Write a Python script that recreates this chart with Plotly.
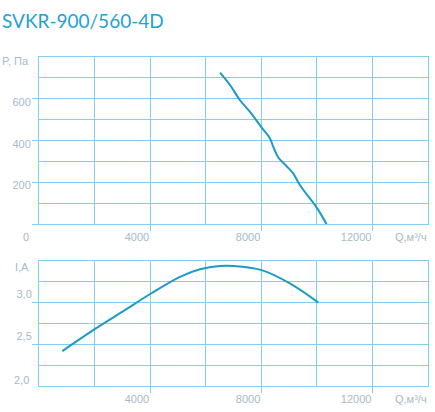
import plotly.graph_objects as go

# Напорная характеристика P(Q)
q_pressure = [6514, 6874, 7234, 7594, 8015, 8314, 8433, 8613, 8914, 9153, 9394, 9934, 10054, 10354]
p_pressure = [725, 666, 593, 537, 462, 410, 370, 319, 277, 242, 186, 91, 67, 0]

# Ток I(Q)
q_current = [839, 2005, 3034, 4031, 5075, 5795, 6514, 6994, 8015, 9029, 10054]
i_current = [2.419, 2.682, 2.898, 3.11, 3.31, 3.40, 3.44, 3.44, 3.39, 3.23, 3.0]

# Подписи осей
q_ticks = [4000, 8000, 12000]
q_labels = ["4000", "8000", "12000"]
p_ticks = [0, 200, 400, 600]
p_labels = ["", "200", "400", "600"]
i_ticks = [2.5, 3.0]
i_labels = ["2,5", "3,0"]

TITLE = "SVKR-900/560-4D"
Q_TITLE = "Q,м³/ч"
P_TITLE = "P, Па"
I_TITLE = "I,A"

GRID = "#7fd0f4"
LINE = "#1b9bc6"
LABEL = "#a7bac9"
tick_font = dict(family="Liberation Sans", size=11, color=LABEL)

fig = go.Figure()
fig.add_trace(go.Scatter(x=q_pressure, y=p_pressure, mode="lines",
                         line=dict(color=LINE, width=2, shape="spline"),
                         xaxis="x", yaxis="y", showlegend=False))
fig.add_trace(go.Scatter(x=q_current, y=i_current, mode="lines",
                         line=dict(color=LINE, width=2, shape="spline"),
                         xaxis="x2", yaxis="y2", showlegend=False))

axis_common = dict(showgrid=True, gridcolor=GRID, gridwidth=1, zeroline=False,
                   showline=True, linecolor=GRID, linewidth=1, mirror=True,
                   ticks="outside", ticklen=6, tickcolor=GRID, tickwidth=1,
                   tickfont=tick_font, tickmode="array", automargin=False)

x_common = dict(axis_common, domain=[0, 1], range=[0, 14000],
                tickvals=q_ticks, ticktext=q_labels,
                ticklabelposition="outside left", ticklabelstandoff=3,
                minor=dict(tick0=0, dtick=2000, showgrid=True, gridcolor=GRID,
                           gridwidth=1, ticks=""))

fig.update_layout(
    width=435, height=412,
    margin=dict(l=39, r=7, t=57, b=26),
    paper_bgcolor="white", plot_bgcolor="white",
    xaxis=dict(x_common, anchor="y"),
    yaxis=dict(axis_common, domain=[0.492, 1], range=[0, 800], anchor="x",
               tickvals=p_ticks, ticktext=p_labels,
               ticklabelposition="outside bottom", ticklabelstandoff=5,
               ticklabelshift=-5,
               minor=dict(tick0=0, dtick=100, showgrid=True, gridcolor=GRID,
                          gridwidth=1, ticks="")),
    xaxis2=dict(x_common, anchor="y2"),
    yaxis2=dict(axis_common, domain=[0, 0.38], range=[2.0, 3.5], anchor="x2",
                tickvals=i_ticks, ticktext=i_labels,
                ticklabelposition="outside top", ticklabelstandoff=4,
                minor=dict(tick0=2.0, dtick=0.25, showgrid=True, gridcolor=GRID,
                           gridwidth=1, ticks="")),
)

# заголовок и подписи осей
label_kw = dict(showarrow=False, font=tick_font)
fig.add_annotation(text=TITLE, xref="paper", yref="paper", x=-39 / 389, y=1 + 37 / 329,
                   xanchor="left", yanchor="middle", showarrow=False,
                   font=dict(family="Lato", size=19, color="#1fa1d9"))
fig.add_annotation(text="0", xref="paper", x=0, yref="y", y=0,
                   xanchor="right", yanchor="top", xshift=-8, yshift=-5, **label_kw)
for ya in ["y", "y2"]:
    fig.add_annotation(text=Q_TITLE, xref="paper", x=1, yref=ya, y=0 if ya == "y" else 2.0,
                       xanchor="right", yanchor="top", xshift=1, yshift=-5, **label_kw)
fig.add_annotation(text=P_TITLE, xref="paper", x=0, yref="y", y=800,
                   xanchor="right", yanchor="top", xshift=-8, yshift=4, **label_kw)
fig.add_annotation(text=I_TITLE, xref="paper", x=0, yref="y2", y=3.5,
                   xanchor="right", yanchor="top", xshift=-8, yshift=2, **label_kw)
fig.add_annotation(text="2,0", xref="paper", x=0, yref="y2", y=2.0,
                   xanchor="right", yanchor="bottom", xshift=-8, yshift=-2, **label_kw)

# страница без отступов у body, чтобы график встал в окно целиком
fig.write_html("out.html", config={"displayModeBar": False},
               post_script="document.body.style.margin='0';")
